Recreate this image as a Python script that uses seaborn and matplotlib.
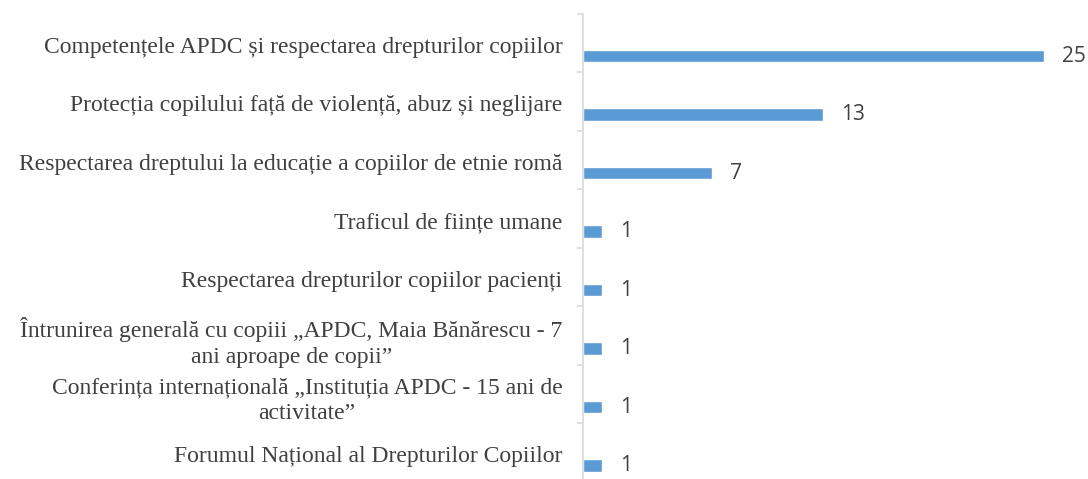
import numpy as np
import seaborn as sns
import pandas as pd
from matplotlib import pyplot as plt
from matplotlib.ticker import FixedLocator

topics = [
    "Competențele APDC și respectarea drepturilor copiilor",
    "Protecția copilului față de violență, abuz și neglijare",
    "Respectarea dreptului la educație a copiilor de etnie romă",
    "Traficul de ființe umane",
    "Respectarea drepturilor copiilor pacienți",
    "Întrunirea generală cu copiii „APDC, Maia Bănărescu - 7\nani aproape de copii”",
    "Conferința internațională „Instituția APDC - 15 ani de\nactivitate”",
    "Forumul Național al Drepturilor Copiilor",
]
counts = [25, 13, 7, 1, 1, 1, 1, 1]

df = pd.DataFrame({"topic": topics, "count": counts})

sns.set_theme(style="white")
plt.rcParams['font.family'] = ['Liberation Serif', 'DejaVu Serif']

fig = plt.figure(figsize=(10.88, 4.79), dpi=100)
ax = fig.add_axes([0.536, 0.0, 0.464, 0.9708])

sns.barplot(data=df, y="topic", x="count", orient="h", color="#5B9BD5",
            width=0.215, saturation=1, ax=ax)

# value labels
for cont in ax.containers:
    ax.bar_label(cont, labels=[str(v) for v in counts], padding=13,
                 fontsize=15, color="#404040", family=["Open Sans", "DejaVu Sans"])

ax.set_xlim(0, 27.4)
ax.set_ylim(7.229, -0.72)

# category labels sit above the bars, boundary ticks between categories
offset = 0.22
ax.set_yticks(np.arange(len(topics)) - offset + 0.03)
ax.set_yticklabels(topics, fontsize=17, color="#404040")
for lbl in ax.get_yticklabels():
    lbl.set_multialignment("center")
    lbl.set_linespacing(1.3)
ax.yaxis.set_minor_locator(FixedLocator(np.arange(len(topics)) - offset - 0.5))
ax.tick_params(axis="y", which="major", length=0, pad=15)
ax.tick_params(axis="y", which="minor", length=4.5, width=1.2, color="#D9D9D9", direction="out", left=True)
ax.set_xticks([])
ax.set_xlabel("")
ax.set_ylabel("")

for s in ["top", "right", "bottom"]:
    ax.spines[s].set_visible(False)
ax.spines["left"].set_color("#D9D9D9")
ax.spines["left"].set_linewidth(1.2)

fig.savefig("out.png", dpi=100)
